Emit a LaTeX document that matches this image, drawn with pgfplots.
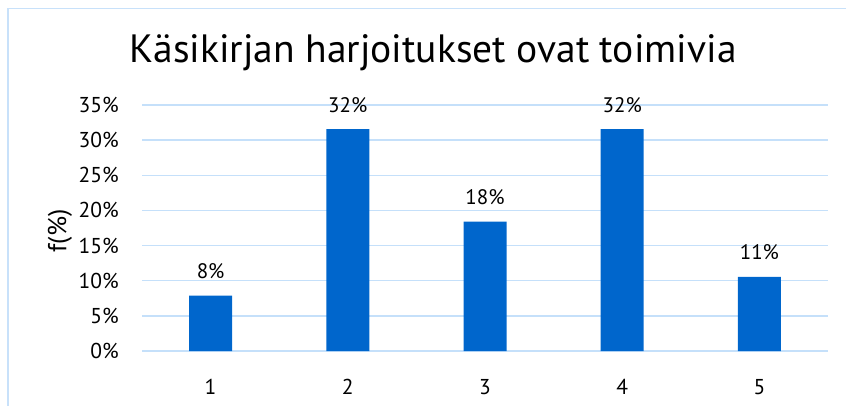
\documentclass[border=0pt]{standalone}
\usepackage{fontspec}
\setmainfont{PT Sans}
\usepackage{pgfplots}
\pgfplotsset{compat=1.18}
\definecolor{barblue}{RGB}{0,102,204}
\definecolor{gridblue}{RGB}{197,224,250}
\definecolor{frameblue}{RGB}{200,225,250}
\begin{document}
\begin{tikzpicture}[x=1pt,y=1pt]
\useasboundingbox (0,0) rectangle (846,405);
\draw[frameblue, line width=1.5pt] (8,-20) -- (8,396.5) -- (870,396.5);
\node[anchor=base, inner sep=0pt, font=\fontsize{39.5}{44}\selectfont] at (433,342) {Käsikirjan harjoitukset ovat toimivia};
\node[rotate=90, inner sep=0pt, font=\fontsize{26}{30}\selectfont] at (60,174) {f(\%)};
\begin{axis}[
  at={(142pt,54pt)}, anchor=south west,
  scale only axis, width=686pt, height=246pt,
  ybar, bar width=43pt,
  xmin=0.5, xmax=5.5, ymin=0, ymax=35,
  xtick={1,2,3,4,5}, ytick={0,5,...,35},
  /pgf/number format/assume math mode=true,
  yticklabel={\pgfmathprintnumber{\tick}\%},
  axis line style={draw=none},
  major tick style={draw=none},
  ymajorgrids, grid style={color=gridblue, line width=1.3pt},
  tick label style={font=\fontsize{21.5}{25}\selectfont},
  yticklabel style={anchor=east, inner sep=0pt, xshift=-23pt},
  xticklabel style={anchor=north, inner sep=0pt, yshift=-24pt},
  nodes near coords={\pgfmathprintnumber[fixed,precision=0]{\pgfplotspointmeta}\%},
  every node near coord/.append style={anchor=base, inner sep=0pt, yshift=17pt, font=\fontsize{21}{25}\selectfont, text=black},
  clip=false,
]
\addplot[fill=barblue, draw=none] coordinates {(1,7.89) (2,31.58) (3,18.42) (4,31.58) (5,10.53)};
\end{axis}
\end{tikzpicture}
\end{document}
